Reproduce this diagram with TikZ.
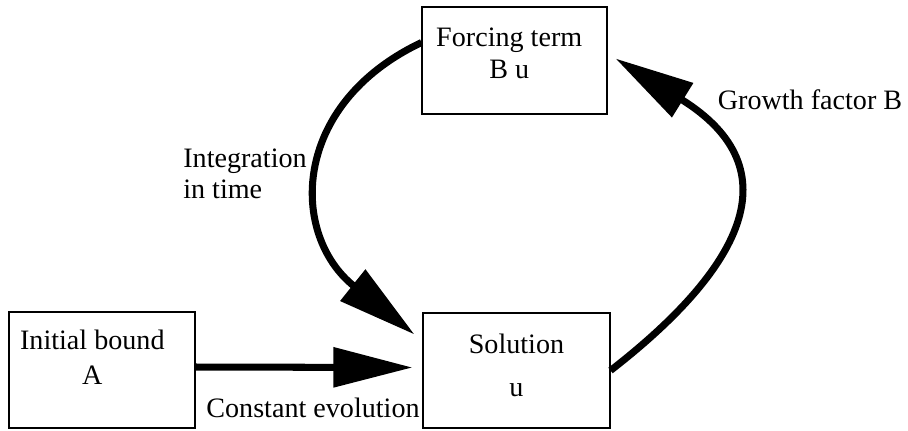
\documentclass[tikz,border=0pt]{standalone}
\usepackage{fontspec}
\setmainfont{Liberation Serif}
\usepackage{tikz}
\usetikzlibrary{arrows.meta}
\usetikzlibrary{positioning}
\usetikzlibrary{calc}
\tikzstyle{block} = [rectangle, draw, line width=0.6pt, align=center,
    font=\fontsize{16}{18}\selectfont]
\tikzstyle{note} = [font=\fontsize{16}{18}\selectfont]
\tikzstyle{line} = [draw, line width=4pt, -{Triangle[length=45pt,width=22pt]}]

\begin{document}
\begin{tikzpicture}[x=0.02cm, y=-0.02cm]
  \useasboundingbox (0,0) rectangle (908,430);
  % Place nodes
  \node [block, minimum width=3.7cm, minimum height=2.14cm, text depth=8pt] (forcing) at (514.5,60.5)
    {Forcing term\hspace*{6pt}\\B u\hspace*{6pt}};
  \node [block, minimum width=3.72cm, minimum height=2.32cm, text depth=15pt] (init) at (102,370)
    {Initial bound\hspace*{11pt}\\[2pt]A\hspace*{11pt}};
  \node [block, minimum width=3.74cm, minimum height=2.3cm, text depth=6pt] (sol) at (516.5,370.5)
    {Solution\\[6pt]u};

  % Labels
  \node [note, align=left] (integ) at (245,174) {Integration\\in time};
  \node [note] (growth) at (810,100) {Growth factor B};
  \node [note] (const) at (313,408) {Constant evolution};

  % Arrows
  \path [line] ($(init.east)+(0,-3)$) -- ($(sol.west)+(-10,-3)$);
  \path [line] ($(forcing.west)+(0,-18)$) .. controls (290,105) and (290,235) .. ($(sol.north west)+(-8,22)$);
  \path [line] (sol.east) .. controls (740,270) and (795,170) .. ($(forcing.east)+(8,-2)$);

\end{tikzpicture}
\end{document}
